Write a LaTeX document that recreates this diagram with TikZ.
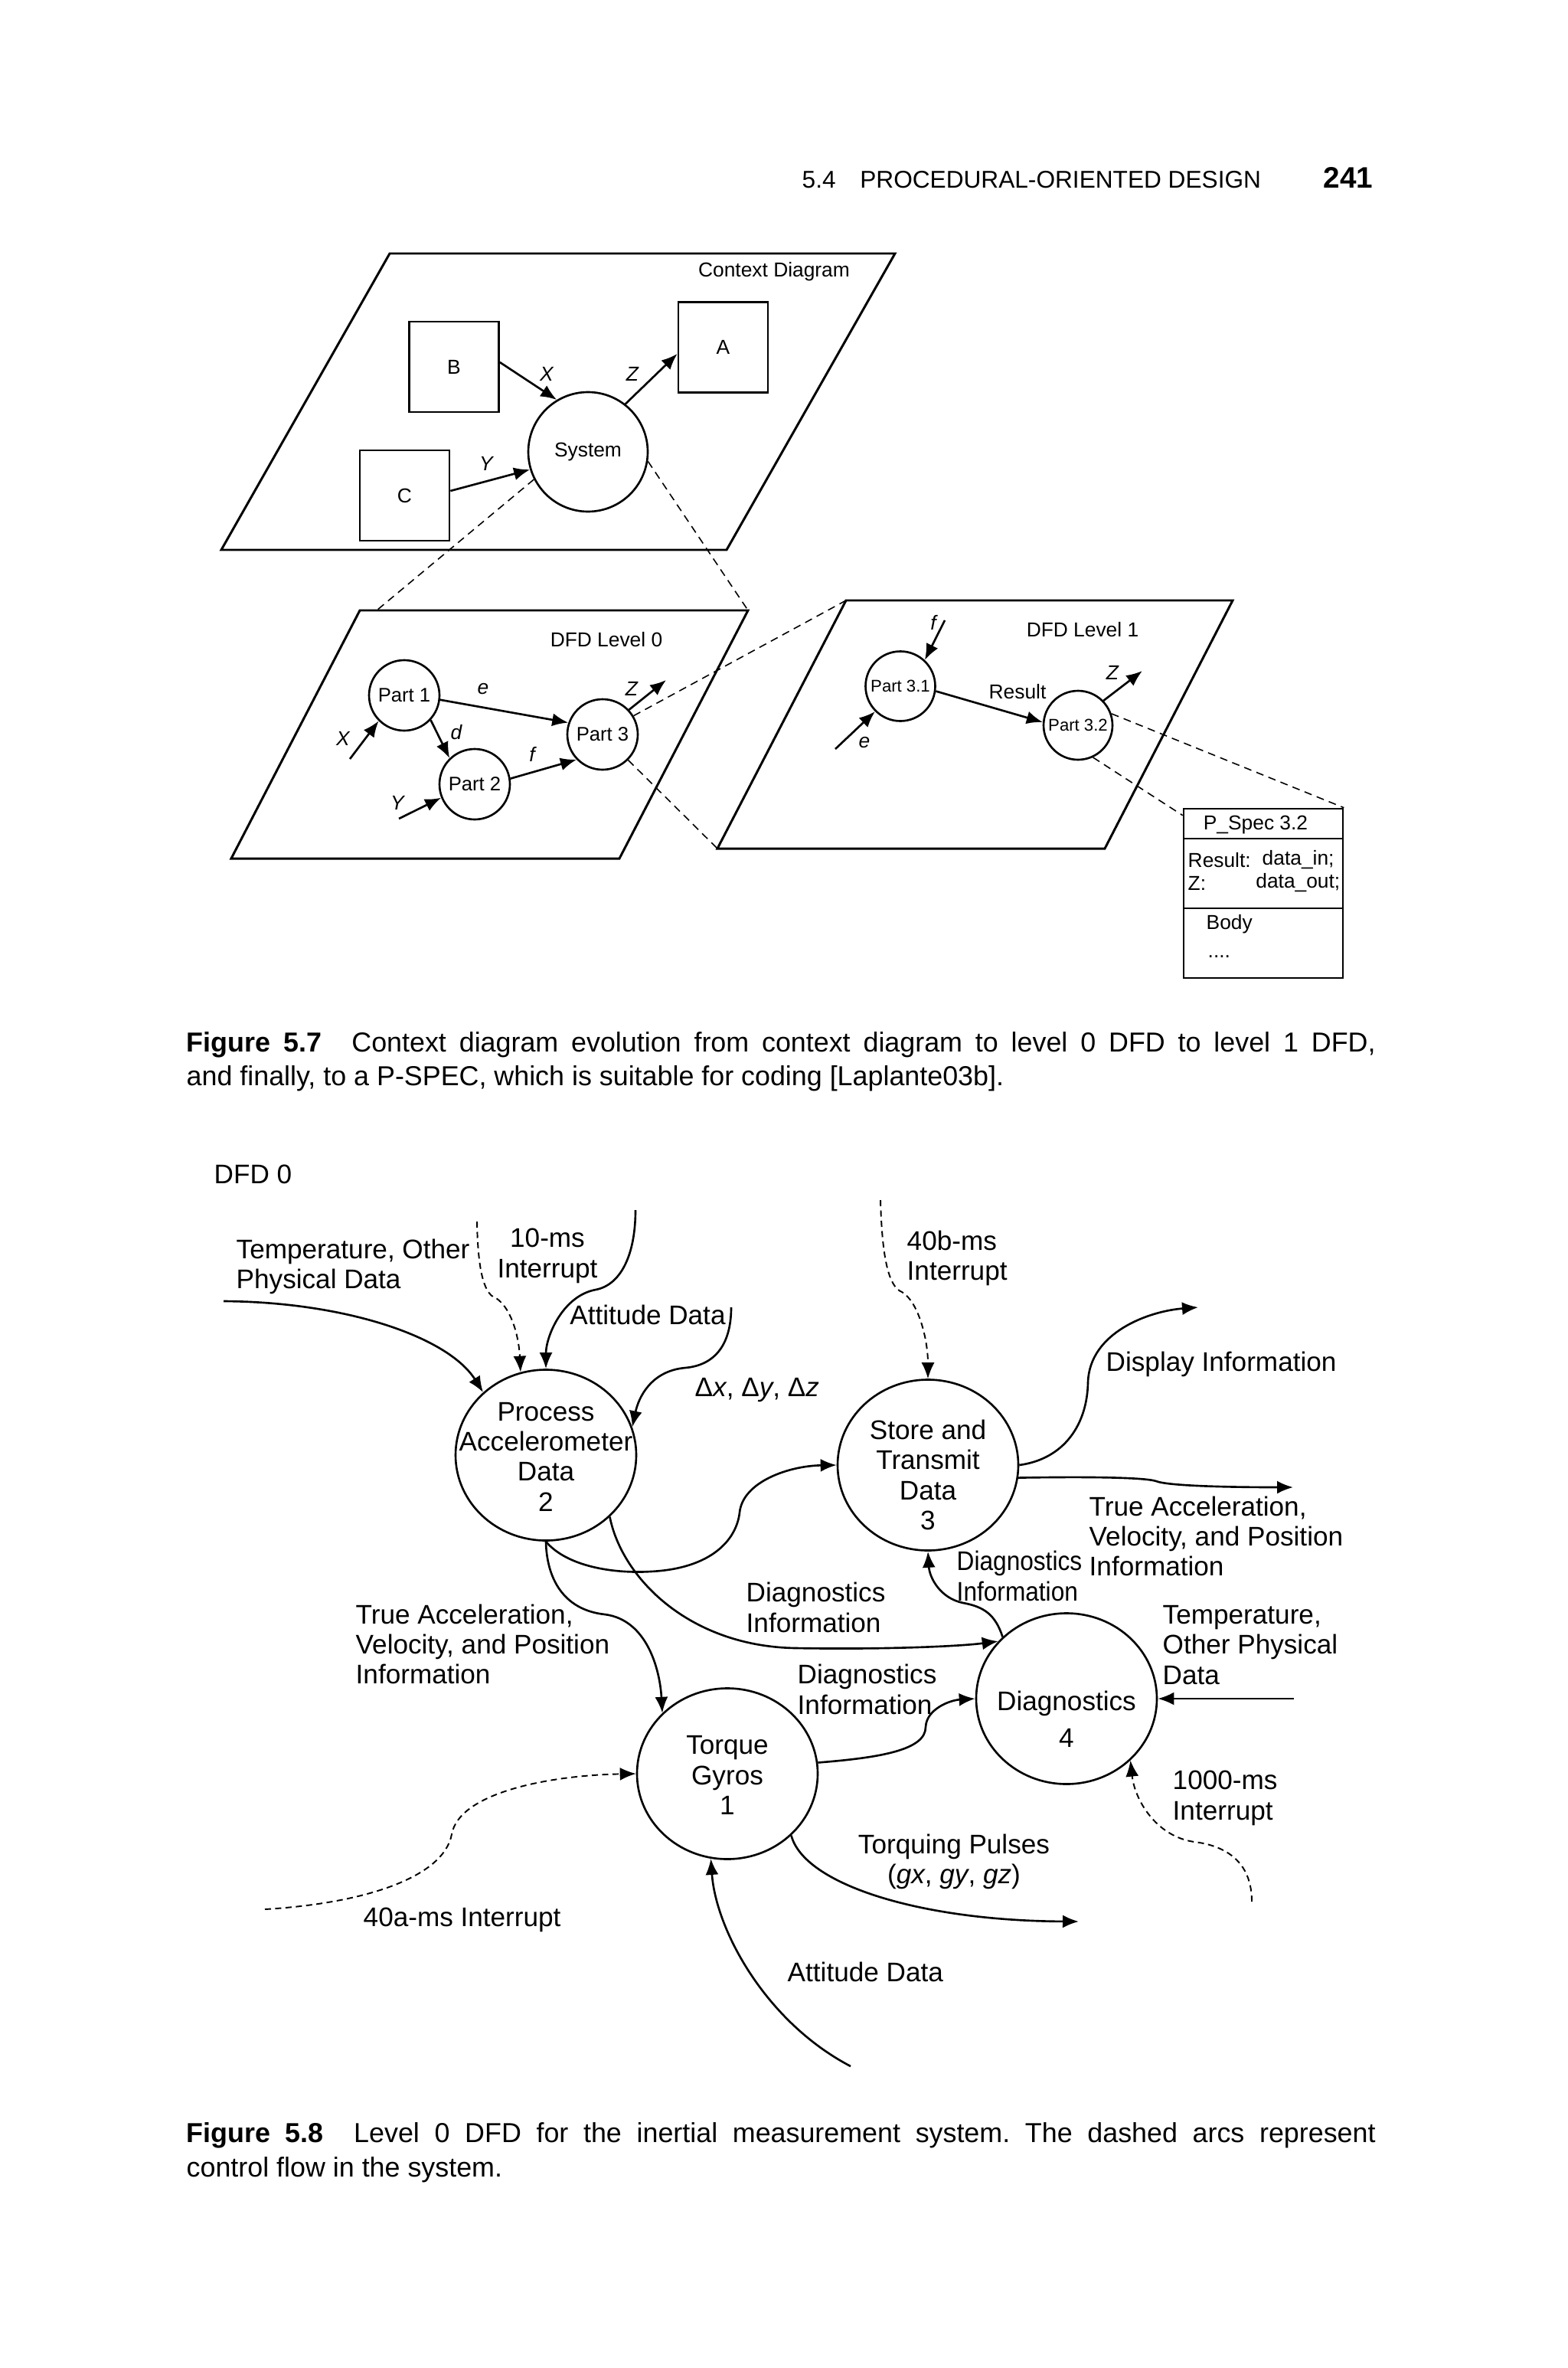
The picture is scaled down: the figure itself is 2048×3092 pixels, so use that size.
\documentclass[tikz,border=0pt]{standalone}
\usepackage{fontspec}
\setmainfont{Liberation Sans}
\newfontfamily\condfont[FakeStretch=0.9]{Liberation Sans}
\usetikzlibrary{arrows.meta,shapes.geometric}
\frenchspacing
\begin{document}
\begin{tikzpicture}[x=0.1mm,y=-0.1mm,
  plane/.style={line width=0.85pt},
  tline/.style={line width=0.75pt},
  arr/.style={line width=0.75pt,-{Latex[length=2.1mm,width=1.7mm]}},
  darr/.style={line width=0.55pt,dash pattern=on 0.8mm off 0.55mm,-{Latex[length=2.1mm,width=1.7mm]}},
  dsh/.style={line width=0.45pt,dash pattern=on 1mm off 0.7mm},
  smalltxt/.style={font=\fontsize{7.5}{8.6}\selectfont,inner sep=0},
  itxt/.style={font=\fontsize{7.5}{8.6}\selectfont\itshape,inner sep=0},
  sqbox/.style={draw,line width=0.75pt,minimum width=11.7mm,minimum height=11.8mm,inner sep=0,font=\fontsize{7.5}{8.6}\selectfont},
  pc/.style={draw,circle,line width=0.75pt,minimum size=9.2mm,inner sep=0,font=\fontsize{7.3}{8.6}\selectfont},
  pct/.style={draw,circle,line width=0.75pt,minimum size=9.1mm,inner sep=0,font=\fontsize{6.3}{7.4}\selectfont},
  lbl/.style={font=\fontsize{10}{11.2}\selectfont,inner sep=0,align=left},
  clbl/.style={font=\fontsize{10}{11.2}\selectfont,inner sep=0,align=center},
  bub/.style={draw,ellipse,line width=0.75pt,minimum width=23.6mm,minimum height=22.3mm,inner sep=0},
  capt/.style={font=\fontsize{10.2}{12.8}\selectfont,inner sep=0,text width=155.3mm,align=justify}
]
\fill[white] (0,0) rectangle (2048,3092);
\useasboundingbox (0,0) rectangle (2048,3092);

% ---------- header
\node[anchor=base west,inner sep=0,font=\fontsize{9}{11}\selectfont] (hdr) at (1047,246) {5.4\hspace{1em}PROCEDURAL-ORIENTED DESIGN};
\node[anchor=base east,inner sep=0,font=\fontsize{11}{13}\selectfont\bfseries] (pgno) at (1794,246) {241};

% ---------- Figure 5.7 : context diagram
\draw[plane] (509,331) -- (1169,331) -- (949,718) -- (289,718) -- cycle;
\node[smalltxt] (ctxt) at (1011,355) {Context Diagram};
\node[sqbox] (B) at (593,479) {B};
\node[sqbox] (A) at (944.5,453.5) {A};
\node[sqbox] (C) at (528.5,647) {C};
\node[pc,minimum size=15.6mm,font=\fontsize{7.5}{8.6}\selectfont] (Sys) at (768,590) {System};
\draw[arr] ([yshift=0.6mm]B.east) -- (Sys.121);
\draw[arr] (Sys.52) -- ([yshift=-0.85mm]A.west);
\draw[arr] ([yshift=0.6mm]C.east) -- (Sys.197);
\node[itxt] (lX) at (714,488) {X};
\node[itxt] (lZ) at (826,488) {Z};
\node[itxt] (lY) at (635,605) {Y};

% ---------- DFD level 0
\coordinate (L0tl) at (470,797);
\coordinate (L0tr) at (977,797);
\coordinate (L0br) at (809,1121);
\coordinate (L0bl) at (302,1121);
\coordinate (L0hit) at (492,797);
\draw[dsh] (Sys.207) -- (L0hit);
\draw[dsh] (Sys.351) -- (L0tr);
\draw[plane] (L0tl) -- (L0tr) -- (L0br) -- (L0bl) -- cycle;
\node[smalltxt] (d0t) at (792,835) {DFD Level 0};
\node[pc] (P1) at (528,908) {Part 1};
\node[pc] (P2) at (620,1024) {Part 2};
\node[pc] (P3) at (787,959) {Part 3};
\coordinate (x0) at (457,991);
\coordinate (y0) at (521,1069);
\coordinate (z0) at (870,888);
\draw[arr] (x0) -- (P1.225);
\draw[arr] (y0) -- (P2.202);
\draw[arr] (P3.43) -- (z0);
\draw[arr] (P1.-7) -- (P3.161);
\draw[arr] (P1.-43) -- (P2.134);
\draw[arr] (P2.9) -- (P3.224);
\node[itxt] (le0) at (631,900) {e};
\node[itxt] (ld0) at (596,956) {d};
\node[itxt] (lf0) at (695,985) {f};
\node[itxt] (lX0) at (448,964) {X};
\node[itxt] (lY0) at (519,1048) {Y};
\node[itxt] (lZ0) at (825,899) {Z};

% ---------- DFD level 1
\coordinate (L1tl) at (1105,784);
\coordinate (L1tr) at (1610,784);
\coordinate (L1br) at (1443,1108);
\coordinate (L1bl) at (937,1108);
\draw[dsh] (P3.31) -- (L1tl);
\draw[dsh] (P3.-45) -- (L1bl);
\draw[plane] (L1tl) -- (L1tr) -- (L1br) -- (L1bl) -- cycle;
\node[smalltxt] (d1t) at (1414,822) {DFD Level 1};
\node[pct] (P31) at (1176,896) {Part 3.1};
\node[pct,minimum size=9mm] (P32) at (1408,947) {Part 3.2};
\coordinate (f1) at (1234,810);
\coordinate (e1) at (1091,978);
\coordinate (z1) at (1492,876);
\draw[arr] (f1) -- (P31.47);
\draw[arr] (e1) -- (P31.225);
\draw[arr] (P31.-8) -- (P32.175);
\draw[arr] (P32.44) -- (z1);
\node[itxt] (lf1) at (1219,813) {f};
\node[itxt] (le1) at (1129,970) {e};
\node[smalltxt] (lres) at (1329,903) {Result};
\node[itxt] (lZ1) at (1453,878) {Z};

% ---------- P_Spec
\node[draw,line width=0.75pt,minimum width=20.8mm,minimum height=22.1mm,inner sep=0] (pspec) at (1650,1166.5) {};
\coordinate (sp1) at (1650,1095);
\coordinate (sp2) at (1650,1186);
\draw[tline] (pspec.west |- sp1) -- (pspec.east |- sp1);
\draw[tline] (pspec.west |- sp2) -- (pspec.east |- sp2);
\draw[dsh] (P32.19) -- (pspec.north east);
\draw[dsh] (P32.-65) -- ([yshift=-1mm]pspec.north west);
\node[smalltxt] (ps1) at (1640,1077) {P\_Spec 3.2};
\node[smalltxt,anchor=west] (ps2) at (1551,1123) {Result:};
\node[smalltxt,anchor=west] (ps3) at (1648,1123) {data\_in;};
\node[smalltxt,anchor=west] (ps4) at (1551,1153) {Z:};
\node[smalltxt,anchor=east] (ps5) at (1751,1153) {data\_out;};
\node[smalltxt,anchor=west] (ps6) at (1575,1207) {Body};
\node[smalltxt,anchor=west] (ps7) at (1577,1249) {....};

% ---------- caption 5.7
\node[capt,anchor=base west] (cap1) at (243,1373) {\textbf{Figure 5.7}\hspace{1.1em}Context diagram evolution from context diagram to level 0 DFD to level 1 DFD,\linebreak and finally, to a P-SPEC, which is suitable for coding [Laplante03b].};

% ---------- Figure 5.8
\node[lbl,anchor=west] (dfd0) at (279,1533) {DFD 0};

\node[bub] (Proc) at (713,1900) {};
\node[clbl] (ProcT) at (713,1902) {Process\\Accelerometer\\Data\\2};
\node[bub] (Store) at (1212,1913) {};
\node[clbl] (StoreT) at (1212,1926) {Store and\\Transmit\\Data\\3};
\node[bub] (Torque) at (950,2316) {};
\node[clbl] (TorqueT) at (950,2318) {Torque\\Gyros\\1};
\node[bub] (Diag) at (1393,2218) {};
\node[clbl] (DiagT) at (1393,2245) {Diagnostics\\[0.9mm]4};

% inputs to Process
\coordinate (tin) at (292,1699);
\draw[arr] (tin) .. controls (450,1700) and (585,1745) .. (Proc.135);
\coordinate (i10) at (623,1595);
\draw[darr] (i10) .. controls (624,1650) and (630,1690) .. (648,1695) .. controls (670,1710) and (678,1750) .. (Proc.107);
\coordinate (at0) at (830,1580);
\draw[arr] (at0) .. controls (830,1640) and (810,1678) .. (778,1684) .. controls (735,1692) and (713,1745) .. (Proc.90);
\coordinate (dx0) at (955,1707);
\draw[arr] (dx0) .. controls (955,1760) and (930,1783) .. (895,1786) .. controls (850,1790) and (834,1825) .. (Proc.18);

% Process outputs
\draw[arr] (Proc.270) .. controls (740,2045) and (800,2055) .. (850,2052) .. controls (930,2048) and (962,2010) .. (966,1975) .. controls (970,1935) and (1030,1914) .. (Store.180);
\draw[arr] (Proc.-44) .. controls (812,2060) and (900,2150) .. (1040,2152) .. controls (1150,2154) and (1250,2150) .. (Diag.140);
\draw[arr] (Proc.270) .. controls (714,2060) and (735,2102) .. (790,2108) .. controls (845,2115) and (862,2180) .. (Torque.137);

% Store
\coordinate (i40b) at (1150,1567);
\draw[darr] (i40b) .. controls (1152,1640) and (1160,1680) .. (1178,1687) .. controls (1200,1700) and (1212,1750) .. (Store.90);
\coordinate (disp) at (1565,1707);
\draw[arr] (Store.0) .. controls (1390,1905) and (1420,1860) .. (1421,1805) .. controls (1423,1740) and (1500,1712) .. (disp);
\coordinate (tao) at (1689,1942);
\draw[arr] (Store.-8) .. controls (1420,1928) and (1495,1929) .. (1510,1934) .. controls (1525,1940) and (1600,1942) .. (tao);

% Diagnostics
\draw[arr] (Diag.136) .. controls (1300,2108) and (1285,2098) .. (1258,2093) .. controls (1228,2087) and (1214,2060) .. (Store.270);
\draw[arr] (Torque.7) .. controls (1150,2295) and (1209,2285) .. (1209,2255) .. controls (1210,2232) and (1240,2220) .. (Diag.180);
\coordinate (tdi) at (1690,2218);
\draw[arr] (tdi) -- (Diag.0);
\coordinate (i1000) at (1635,2483);
\draw[darr] (i1000) .. controls (1635,2430) and (1600,2410) .. (1560,2405) .. controls (1510,2398) and (1482,2350) .. (Diag.-44);

% Torque
\coordinate (tqo) at (1409,2509);
\draw[arr] (Torque.-44) .. controls (1050,2460) and (1200,2508) .. (tqo);
\coordinate (at1) at (1111,2698);
\draw[arr] (at1) .. controls (1000,2640) and (935,2520) .. (Torque.259);
\coordinate (i40a) at (346,2493);
\draw[darr] (i40a) .. controls (480,2485) and (580,2450) .. (590,2395) .. controls (600,2340) and (720,2318) .. (Torque.180);

% labels
\node[lbl,anchor=west] (lt1) at (308,1654) {Temperature, Other\\Physical Data};
\node[clbl] (l10) at (715,1640) {10-ms\\Interrupt};
\node[lbl] (lat1) at (846,1717) {Attitude Data};
\node[lbl,anchor=west] (ldx) at (907,1815) {Δ\textit{x}, Δ\textit{y}, Δ\textit{z}};
\node[lbl,anchor=west] (l40b) at (1184,1643) {40b-ms\\Interrupt};
\node[lbl,anchor=west] (ldisp) at (1444,1781) {Display Information};
\node[lbl,anchor=west] (lta1) at (1422,2006) {True Acceleration,\\Velocity, and Position\\Information};
\node[lbl,anchor=west,font=\condfont\fontsize{10}{11.2}\selectfont] (ldi3) at (1249,2058) {Diagnostics\\Information};
\node[lbl,anchor=west] (ldi2) at (974,2099) {Diagnostics\\Information};
\node[lbl,anchor=west] (ldi1) at (1041,2206) {Diagnostics\\Information};
\node[lbl,anchor=west] (lta2) at (464,2147) {True Acceleration,\\Velocity, and Position\\Information};
\node[lbl,anchor=west] (lt2) at (1518,2148) {Temperature,\\Other Physical\\Data};
\node[lbl,anchor=west] (l1000) at (1531,2348) {1000-ms\\Interrupt};
\node[clbl] (ltq) at (1246,2431) {Torquing Pulses\\(\textit{gx}, \textit{gy}, \textit{gz})};
\node[lbl,anchor=west] (l40a) at (474,2507) {40a-ms Interrupt};
\node[lbl,anchor=west] (lat2) at (1028,2575) {Attitude Data};

% ---------- caption 5.8
\node[capt,anchor=base west] (cap2) at (243,2797) {\textbf{Figure 5.8}\hspace{1.1em}Level 0 DFD for the inertial measurement system. The dashed arcs represent\linebreak control flow in the system.};
\end{tikzpicture}
\end{document}
